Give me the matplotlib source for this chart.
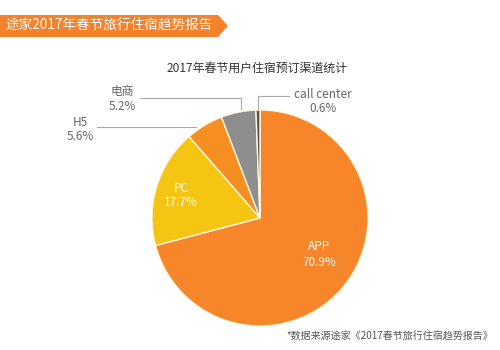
import matplotlib
matplotlib.use("Agg")
import matplotlib.pyplot as plt
from matplotlib.patches import Polygon

plt.rcParams['font.family'] = ['Noto Sans CJK SC', 'DejaVu Sans']

# Booking channel shares, clockwise from 12 o'clock
channels = ["APP", "PC", "H5", "电商", "call center"]
shares = [70.9, 17.7, 5.6, 5.2, 0.6]
colors = ["#F7862B", "#F6C412", "#F78E22", "#8E8E8E", "#555555"]

banner_title = "途家2017年春节旅行住宿趋势报告"
chart_title = "2017年春节用户住宿预订渠道统计"
source_note = "*数据来源途家《2017春节旅行住宿趋势报告》"

W, H = 500, 350
fig = plt.figure(figsize=(W / 100, H / 100), dpi=100)
ax = fig.add_axes([0, 0, 1, 1])


def Y(y):
    """Convert a top-down pixel row to the axes' bottom-up y value."""
    return H - y


# Pie
cx, cy, r = 260, Y(218), 108
ax.pie(shares, colors=colors, startangle=90, counterclock=False,
       center=(cx, cy), radius=r, frame=True,
       wedgeprops=dict(edgecolor="#FFF6E0", linewidth=1.0))
ax.set_xlim(0, W)
ax.set_ylim(0, H)
ax.set_aspect("equal")
ax.axis("off")

# Header banner with arrow tip
banner = Polygon([(0, Y(15)), (218, Y(15)), (228, Y(26)), (218, Y(37)), (0, Y(37))],
                 closed=True, facecolor="#F4812B", edgecolor="none")
ax.add_patch(banner)
ax.text(6, Y(26), banner_title, color="white", fontsize=9.8,
        va="center", ha="left")

# Chart title
ax.text(257, Y(68), chart_title, color="#333333", fontsize=8.6,
        va="center", ha="center")

label_color = "#666666"
line_color = "#AAAAAA"
fs = 8.5

# Labels inside the large slices
ax.text(319, Y(247), channels[0], color="white", fontsize=fs, ha="center", va="center")
ax.text(319, Y(263), f"{shares[0]}%", color="white", fontsize=fs, ha="center", va="center")
ax.text(181, Y(188), channels[1], color="white", fontsize=fs, ha="center", va="center")
ax.text(181, Y(203), f"{shares[1]}%", color="white", fontsize=fs, ha="center", va="center")

# H5 label and leader
ax.text(80, Y(122), channels[2], color=label_color, fontsize=fs, ha="center", va="center")
ax.text(80, Y(136), f"{shares[2]}%", color=label_color, fontsize=fs, ha="center", va="center")
ax.plot([97, 196], [Y(127), Y(127)], color=line_color, lw=0.8)

# 电商 label and leader
ax.text(122, Y(92), channels[3], color=label_color, fontsize=fs, ha="center", va="center")
ax.text(122, Y(106), f"{shares[3]}%", color=label_color, fontsize=fs, ha="center", va="center")
ax.plot([140, 241, 241], [Y(98), Y(98), Y(109)], color=line_color, lw=0.8)

# call center label and leader
ax.text(323, Y(94), channels[4], color=label_color, fontsize=fs, ha="center", va="center")
ax.text(323, Y(109), f"{shares[4]}%", color=label_color, fontsize=fs, ha="center", va="center")
ax.plot([258, 258, 289], [Y(109), Y(96), Y(96)], color=line_color, lw=0.8)

# Source note
ax.text(493, Y(337), source_note, color="#555555", fontsize=7.2, ha="right", va="center")

fig.savefig("out.png", dpi=100, facecolor="white")
